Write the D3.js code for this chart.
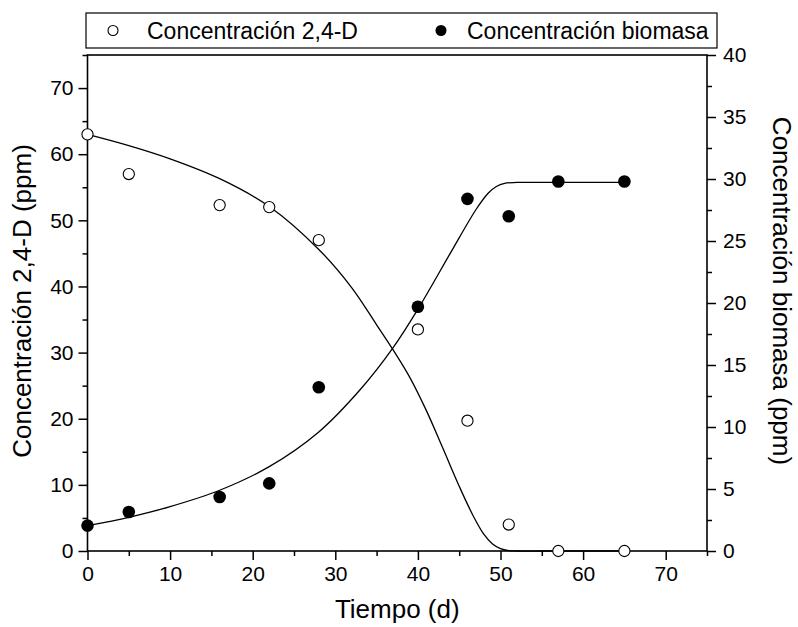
<!DOCTYPE html>
<html><head><meta charset="utf-8">
<script src="https://cdn.jsdelivr.net/npm/d3@7/dist/d3.min.js"></script>
<style>html,body{margin:0;padding:0;background:#fff}svg{display:block}text{font-family:"Liberation Sans",Arial,sans-serif;fill:#000}</style>
</head><body>
<script>
// Data
const days = [0, 5, 16, 22, 28, 40, 46, 51, 57, 65];
const herbicide = [63, 57, 52.3, 52, 47, 33.5, 19.7, 4, 0, 0];           // left axis (ppm)
const biomass = [2.05, 3.15, 4.35, 5.45, 13.2, 19.7, 28.4, 27, 29.8, 29.8]; // right axis (ppm)
const fitHerbX = [0, 5, 10, 16, 22, 28, 32, 35, 37, 39, 41, 43, 45, 46.7, 48, 49, 50, 51, 52, 55, 65];
const fitHerbY = [63, 61.3, 59.3, 56.3, 52.1, 45.6, 39.8, 34.2, 30.4, 26.3, 21.3, 15.6, 9.8, 5.3, 2.5, 1.1, 0.35, 0.05, 0, 0, 0];
const fitBioX = [0, 5, 10, 16, 22, 28, 33, 37, 40, 44, 47, 48.5, 49.5, 50.5, 52, 58, 65];
const fitBioY = [2.05, 2.72, 3.58, 4.9, 6.8, 9.6, 13.0, 16.4, 19.5, 24.1, 27.5, 28.85, 29.4, 29.65, 29.72, 29.72, 29.72];
const xTicks = [0, 10, 20, 30, 40, 50, 60, 70];
const leftTicks = [0, 10, 20, 30, 40, 50, 60, 70];
const rightTicks = [0, 5, 10, 15, 20, 25, 30, 35, 40];
const seriesNames = ["Concentración 2,4-D", "Concentración biomasa"];
const xTitle = "Tiempo (d)", leftTitle = "Concentración 2,4-D (ppm)", rightTitle = "Concentración biomasa (ppm)";

const W = 798, H = 627;
const L = 87.5, R = 707, T = 55, B = 551;
const svg = d3.select("body").append("svg").attr("width", W).attr("height", H);
const x = d3.scaleLinear().domain([0, 75]).range([L, R]);
const yL = d3.scaleLinear().domain([0, 75]).range([B, T]);
const yR = d3.scaleLinear().domain([0, 40]).range([B, T]);

const gx = svg.append("g").attr("transform", `translate(0,${B})`);
gx.call(d3.axisBottom(x).tickValues(d3.range(5, 80, 10)).tickSize(5).tickFormat(""));
gx.append("g").call(d3.axisBottom(x).tickValues(xTicks).tickSize(9).tickPadding(6).tickFormat(d3.format("d")));
const gl = svg.append("g").attr("transform", `translate(${L},0)`);
gl.call(d3.axisLeft(yL).tickValues(d3.range(5, 80, 10)).tickSize(5).tickFormat(""));
gl.append("g").call(d3.axisLeft(yL).tickValues(leftTicks).tickSize(9).tickPadding(5).tickFormat(d3.format("d")));
const gr = svg.append("g").attr("transform", `translate(${R},0)`);
gr.call(d3.axisRight(yR).tickValues(d3.range(2.5, 40, 5)).tickSize(5).tickFormat(""));
gr.append("g").call(d3.axisRight(yR).tickValues(rightTicks).tickSize(9).tickPadding(7).tickFormat(d3.format("d")));
svg.selectAll(".domain").remove();
svg.selectAll(".tick line").attr("stroke", "#000").attr("stroke-width", 1.5);
svg.selectAll(".tick text").style("font-size", "21px").attr("fill", "#000");
// frame
svg.append("rect").attr("x", L).attr("y", T).attr("width", R - L).attr("height", B - T)
  .attr("fill", "none").attr("stroke", "#000").attr("stroke-width", 1.6);

// curves
const cr = d3.curveCatmullRom.alpha(0.5);
const lineL = d3.line().x((d, i) => x(fitHerbX[i])).y(d => yL(d)).curve(cr);
const lineR = d3.line().x((d, i) => x(fitBioX[i])).y(d => yR(d)).curve(cr);
svg.append("path").attr("d", lineL(fitHerbY)).attr("fill", "none").attr("stroke", "#000").attr("stroke-width", 1.3);
svg.append("path").attr("d", lineR(fitBioY)).attr("fill", "none").attr("stroke", "#000").attr("stroke-width", 1.3);

// points
svg.append("g").selectAll("circle").data(herbicide).join("circle")
  .attr("cx", (d, i) => x(days[i])).attr("cy", d => yL(d)).attr("r", 5.6)
  .attr("fill", "#fff").attr("stroke", "#000").attr("stroke-width", 1.1);
svg.append("g").selectAll("circle").data(biomass).join("circle")
  .attr("cx", (d, i) => x(days[i])).attr("cy", d => yR(d)).attr("r", 6.3)
  .attr("fill", "#000");

// axis titles
svg.append("text").attr("x", (L + R) / 2).attr("y", 618).attr("text-anchor", "middle").style("font-size", "26px").text(xTitle);
svg.append("text").attr("transform", `translate(31,301) rotate(-90)`).attr("text-anchor", "middle").style("font-size", "26px").text(leftTitle);
svg.append("text").attr("transform", `translate(773,291) rotate(90)`).attr("text-anchor", "middle").style("font-size", "26px").text(rightTitle);

// legend
const lg = svg.append("g");
lg.append("rect").attr("x", 86).attr("y", 13).attr("width", 631).attr("height", 35).attr("fill", "#fff").attr("stroke", "#000").attr("stroke-width", 1.2);
lg.append("circle").attr("cx", 113).attr("cy", 30.5).attr("r", 5).attr("fill", "#fff").attr("stroke", "#000").attr("stroke-width", 1.1);
lg.append("text").attr("x", 147).attr("y", 38.5).style("font-size", "23px").text(seriesNames[0]);
lg.append("circle").attr("cx", 441).attr("cy", 30.5).attr("r", 5.5).attr("fill", "#000");
lg.append("text").attr("x", 467).attr("y", 38.5).style("font-size", "23px").text(seriesNames[1]);
</script>
</body></html>
